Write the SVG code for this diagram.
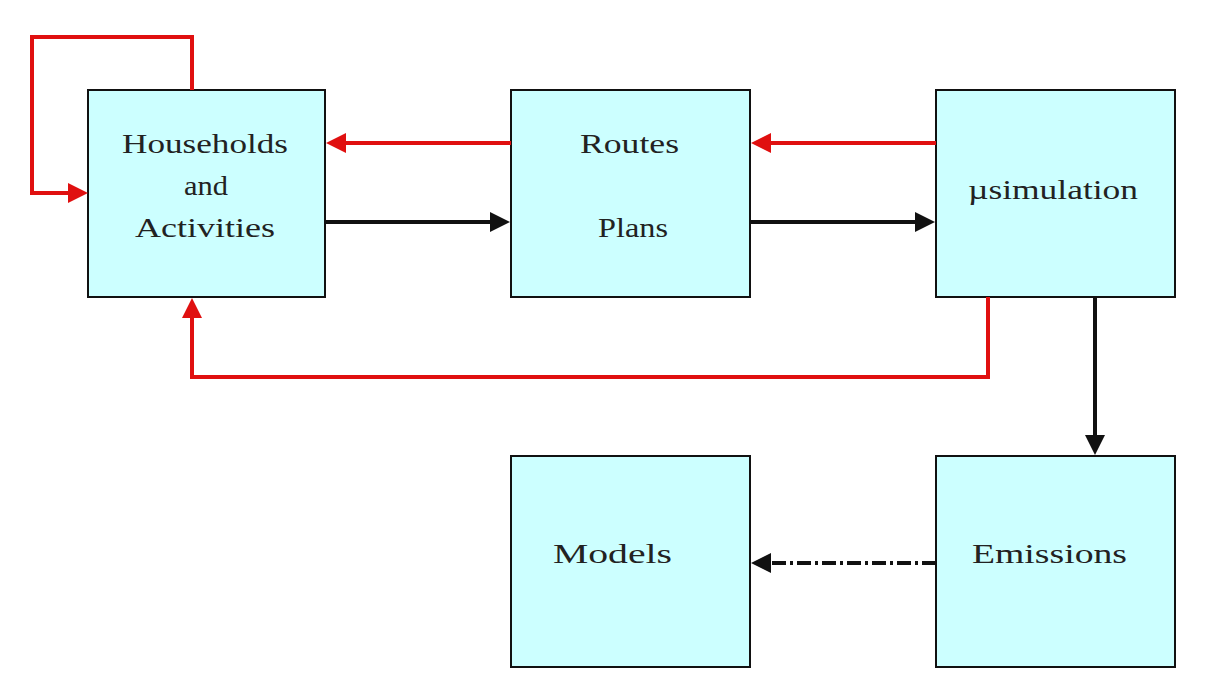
<svg xmlns="http://www.w3.org/2000/svg" width="1221" height="695" viewBox="0 0 1221 695">
<style>
.box{fill:#ccffff;stroke:#111;stroke-width:2}
.t{font-family:"Liberation Serif",serif;font-size:28px;fill:#222;text-anchor:start}
.r{stroke:#e01010;stroke-width:4;fill:none}
.k{stroke:#111;stroke-width:4;fill:none}
</style>
<defs>
<marker id="ar" markerWidth="5" markerHeight="5" refX="4" refY="2.5" orient="auto" markerUnits="strokeWidth"><path d="M0,0L5,2.5L0,5z" fill="#e01010"/></marker>
<marker id="ak" markerWidth="5" markerHeight="5" refX="4" refY="2.5" orient="auto" markerUnits="strokeWidth"><path d="M0,0L5,2.5L0,5z" fill="#111"/></marker>
</defs>
<rect width="1221" height="695" fill="#fff"/>
<g id="households"><rect class="box" x="88" y="90" width="237" height="207"/><text class="t" x="122" y="153" textLength="166" lengthAdjust="spacingAndGlyphs">Households</text><text class="t" x="184" y="195" textLength="44" lengthAdjust="spacingAndGlyphs">and</text><text class="t" x="135" y="237" textLength="140" lengthAdjust="spacingAndGlyphs">Activities</text></g>
<g id="routes"><rect class="box" x="511" y="90" width="239" height="207"/><text class="t" x="580" y="153" textLength="99" lengthAdjust="spacingAndGlyphs">Routes</text><text class="t" x="598" y="237" textLength="70" lengthAdjust="spacingAndGlyphs">Plans</text></g>
<g id="usim"><rect class="box" x="936" y="90" width="239" height="207"/><text class="t" x="968" y="199" textLength="170" lengthAdjust="spacingAndGlyphs">µsimulation</text></g>
<g id="models"><rect class="box" x="511" y="456" width="239" height="211"/><text class="t" x="553" y="563" textLength="119" lengthAdjust="spacingAndGlyphs">Models</text></g>
<g id="emissions"><rect class="box" x="936" y="456" width="239" height="211"/><text class="t" x="972" y="563" textLength="155" lengthAdjust="spacingAndGlyphs">Emissions</text></g>
<g id="connectors">
<path class="r" d="M192,90V37H32V193H84" marker-end="url(#ar)"/>
<path class="r" d="M511,143H330" marker-end="url(#ar)"/>
<path class="r" d="M936,143H755" marker-end="url(#ar)"/>
<path class="k" d="M325,222H506" marker-end="url(#ak)"/>
<path class="k" d="M750,222H931" marker-end="url(#ak)"/>
<path class="r" d="M988,297V377H192V302" marker-end="url(#ar)"/>
<path class="k" d="M1095,297V451" marker-end="url(#ak)"/>
<path class="k" d="M936,563H755" stroke-dasharray="14,4,3,4" marker-end="url(#ak)"/>
</g>
</svg>
